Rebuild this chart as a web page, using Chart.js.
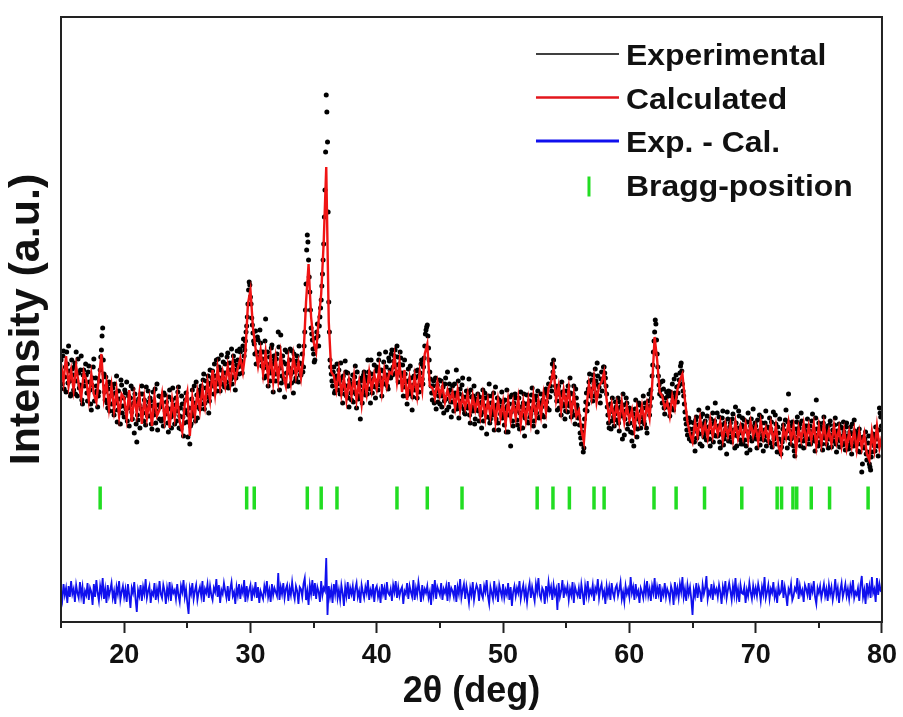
<!DOCTYPE html>
<html>
<head>
<meta charset="utf-8">
<title>XRD Rietveld refinement</title>
<script src="https://cdn.jsdelivr.net/npm/chart.js@4.4.1/dist/chart.umd.min.js"></script>
<style>
  html, body { margin: 0; padding: 0; background: #fff; }
  #wrap { width: 903px; height: 717px; position: relative; }
</style>
</head>
<body>
<div id="wrap"><canvas id="xrd"></canvas></div>
<script>
// 2θ sampling: experimental every 0.05° (two interleaved rows), difference every 0.1°, calculated every 0.2°
const twoThetaStart = 15;
const expStep = 0.1;
const calStep = 0.2;

// Experimental intensity (a.u.) at 15.0, 15.1 ... one row per degree
const expIntensity = [
  262, 238, 271, 245, 230, 258, 276, 241, 228, 253, // 15
  232, 259, 270, 226, 249, 237, 266, 218, 252, 241, // 16
  247, 221, 256, 232, 212, 244, 263, 229, 236, 215, // 17
  230, 252, 272, 294, 248, 222, 236, 214, 240, 226, // 18
  218, 234, 207, 229, 246, 212, 223, 198, 237, 216, // 19
  205, 229, 240, 214, 196, 224, 210, 233, 189, 220, // 20
  180, 202, 217, 228, 236, 209, 222, 197, 214, 231, // 21
  206, 221, 193, 230, 212, 199, 238, 217, 203, 225, // 22
  219, 196, 227, 208, 214, 190, 232, 205, 222, 210, // 23
  198, 224, 211, 235, 206, 193, 218, 186, 212, 229, // 24
  200, 207, 178, 198, 232, 210, 219, 240, 204, 226, // 25
  213, 236, 224, 248, 219, 241, 230, 209, 252, 237, // 26
  251, 228, 246, 262, 238, 255, 231, 267, 244, 249, // 27
  258, 240, 269, 236, 252, 273, 245, 261, 232, 257, // 28
  262, 248, 270, 257, 276, 266, 281, 296, 318, 340, // 29
  325, 304, 289, 278, 291, 270, 282, 262, 279, 256, // 30
  270, 244, 303, 258, 236, 265, 249, 277, 230, 262, // 31
  241, 268, 290, 232, 287, 246, 260, 225, 258, 270, // 32
  236, 262, 248, 271, 229, 257, 244, 266, 240, 259, // 33
  247, 268, 255, 290, 338, 387, 362, 330, 294, 282, // 34
  268, 262, 284, 298, 276, 305, 322, 348, 378, 432, // 35
  527, 480, 320, 262, 248, 236, 255, 231, 246, 238, // 36
  252, 228, 244, 219, 237, 261, 226, 249, 215, 238, // 37
  222, 247, 230, 256, 214, 239, 226, 203, 244, 231, // 38
  250, 227, 241, 262, 233, 219, 248, 236, 257, 224, // 39
  255, 232, 268, 244, 226, 251, 238, 270, 247, 233, // 40
  261, 244, 272, 255, 266, 249, 276, 240, 258, 264, // 41
  249, 226, 262, 240, 218, 253, 231, 244, 212, 237, // 42
  232, 251, 224, 246, 237, 258, 243, 255, 276, 292, // 43
  297, 274, 250, 236, 222, 241, 228, 213, 237, 226, // 44
  218, 241, 226, 209, 238, 223, 250, 215, 232, 205, // 45
  236, 211, 229, 252, 217, 204, 233, 221, 244, 213, // 46
  208, 231, 214, 243, 199, 225, 211, 236, 203, 219, // 47
  228, 201, 219, 194, 232, 210, 224, 188, 215, 238, // 48
  203, 226, 211, 192, 235, 217, 199, 222, 208, 230, // 49
  220, 197, 213, 232, 190, 218, 176, 227, 196, 214, // 50
  224, 202, 216, 193, 230, 207, 219, 186, 212, 227, // 51
  199, 221, 208, 234, 196, 215, 226, 190, 218, 205, // 52
  228, 207, 221, 196, 233, 214, 238, 225, 244, 258, // 53
  262, 245, 228, 212, 236, 221, 207, 230, 216, 203, // 54
  231, 210, 226, 244, 205, 219, 236, 198, 224, 213, // 55
  206, 189, 178, 196, 174, 212, 229, 218, 240, 226, // 56
  242, 221, 238, 253, 229, 246, 235, 219, 250, 240, // 57
  255, 244, 228, 207, 194, 218, 201, 212, 196, 220, // 58
  202, 224, 191, 215, 206, 228, 187, 211, 219, 198, // 59
  214, 190, 181, 208, 196, 222, 185, 203, 217, 194, // 60
  205, 226, 198, 214, 189, 221, 207, 232, 246, 270, // 61
  290, 298, 268, 246, 228, 240, 219, 233, 208, 224, // 62
  215, 231, 206, 226, 238, 212, 229, 247, 220, 236, // 63
  249, 259, 238, 226, 210, 198, 187, 204, 193, 181, // 64
  184, 199, 171, 205, 190, 212, 178, 196, 208, 185, // 65
  201, 182, 214, 190, 176, 198, 209, 187, 219, 195, // 66
  186, 205, 174, 197, 211, 183, 192, 168, 203, 190, // 67
  199, 180, 208, 187, 215, 176, 194, 206, 182, 197, // 68
  178, 202, 191, 169, 209, 185, 196, 181, 213, 188, // 69
  196, 174, 188, 207, 183, 199, 171, 192, 211, 186, // 70
  181, 204, 193, 175, 210, 186, 198, 170, 189, 203, // 71
  168, 180, 197, 188, 212, 174, 228, 191, 183, 200, // 72
  176, 166, 193, 205, 182, 198, 209, 187, 174, 196, // 73
  190, 203, 178, 196, 185, 208, 192, 171, 222, 187, // 74
  199, 180, 193, 172, 205, 188, 178, 196, 183, 201, // 75
  175, 192, 186, 204, 170, 189, 198, 181, 194, 177, // 76
  190, 172, 199, 183, 177, 195, 168, 188, 202, 180, // 77
  187, 171, 193, 178, 150, 185, 174, 190, 162, 179, // 78
  158, 152, 170, 188, 176, 195, 183, 166, 214, 205, // 79
  181                                               // 80
];

// Experimental intensity at the in-between angles 15.05, 15.15 ... 79.95
const expIntensityHalf = [
  244, 266, 233, 255, 270, 239, 251, 226, 262, 247, // 15
  255, 228, 241, 263, 234, 252, 222, 247, 236, 258, // 16
  229, 250, 240, 218, 237, 255, 221, 244, 231, 226, // 17
  241, 265, 286, 262, 230, 245, 219, 233, 211, 238, // 18
  227, 211, 238, 219, 200, 231, 215, 242, 209, 224, // 19
  232, 213, 201, 226, 217, 236, 203, 219, 228, 198, // 20
  207, 223, 194, 213, 228, 201, 216, 235, 206, 220, // 21
  224, 198, 216, 207, 233, 211, 192, 226, 215, 201, // 22
  203, 229, 211, 220, 199, 225, 213, 194, 234, 207, // 23
  217, 201, 230, 194, 214, 226, 205, 199, 222, 209, // 24
  185, 214, 196, 223, 206, 236, 201, 227, 215, 232, // 25
  229, 218, 242, 213, 234, 225, 246, 221, 239, 244, // 26
  236, 258, 240, 231, 263, 244, 252, 238, 260, 235, // 27
  249, 265, 234, 259, 243, 238, 266, 252, 244, 271, // 28
  255, 273, 261, 249, 283, 272, 290, 305, 332, 337, // 29
  318, 297, 281, 268, 258, 285, 265, 292, 270, 263, // 30
  254, 281, 246, 270, 252, 241, 274, 258, 266, 248, // 31
  263, 248, 275, 254, 239, 266, 243, 272, 249, 236, // 32
  254, 273, 239, 250, 268, 241, 261, 252, 276, 247, // 33
  258, 250, 276, 312, 372, 380, 345, 312, 288, 273, // 34
  260, 275, 290, 286, 296, 314, 336, 362, 405, 470, // 35
  510, 410, 290, 255, 241, 250, 229, 243, 258, 232, // 36
  241, 259, 233, 246, 228, 250, 236, 224, 242, 229, // 37
  237, 220, 245, 228, 250, 223, 236, 241, 219, 247, // 38
  234, 245, 228, 250, 241, 262, 229, 243, 235, 251, // 39
  241, 262, 237, 252, 239, 260, 244, 255, 236, 264, // 40
  252, 268, 247, 261, 272, 257, 265, 250, 270, 246, // 41
  257, 235, 248, 226, 241, 228, 256, 236, 225, 246, // 42
  244, 236, 252, 230, 249, 262, 238, 264, 288, 295, // 43
  286, 262, 243, 229, 236, 219, 244, 231, 220, 242, // 44
  230, 215, 235, 221, 244, 212, 229, 238, 220, 226, // 45
  220, 238, 226, 213, 241, 228, 216, 237, 225, 209, // 46
  225, 216, 229, 207, 232, 215, 226, 198, 223, 212, // 47
  211, 225, 207, 220, 201, 229, 216, 205, 226, 199, // 48
  219, 207, 229, 214, 203, 224, 192, 215, 220, 204, // 49
  208, 222, 190, 216, 207, 225, 210, 201, 219, 228, // 50
  211, 197, 224, 209, 215, 194, 228, 204, 218, 200, // 51
  214, 205, 227, 212, 201, 222, 209, 231, 204, 219, // 52
  215, 222, 205, 229, 220, 226, 212, 236, 231, 250, // 53
  255, 236, 221, 233, 214, 227, 240, 218, 225, 211, // 54
  219, 236, 216, 229, 211, 228, 207, 233, 217, 204, // 55
  197, 184, 190, 170, 203, 220, 211, 233, 248, 229, // 56
  233, 247, 226, 241, 259, 237, 226, 243, 231, 255, // 57
  249, 236, 215, 199, 210, 193, 224, 205, 208, 215, // 58
  213, 199, 220, 208, 183, 217, 203, 224, 193, 209, // 59
  199, 212, 189, 176, 213, 204, 193, 219, 200, 211, // 60
  214, 201, 219, 194, 212, 228, 216, 224, 257, 281, // 61
  302, 282, 255, 237, 232, 226, 241, 214, 219, 230, // 62
  226, 217, 230, 214, 221, 243, 225, 235, 229, 242, // 63
  256, 251, 231, 218, 203, 192, 199, 183, 200, 188, // 64
  193, 180, 202, 184, 197, 188, 205, 176, 191, 199, // 65
  189, 206, 195, 183, 203, 190, 180, 201, 186, 209, // 66
  196, 180, 188, 204, 177, 199, 187, 210, 181, 195, // 67
  185, 203, 192, 174, 199, 186, 211, 189, 178, 204, // 68
  195, 182, 176, 200, 190, 172, 203, 194, 184, 199, // 69
  183, 202, 191, 177, 205, 187, 182, 199, 176, 195, // 70
  194, 179, 200, 189, 183, 207, 178, 195, 183, 174, // 71
  175, 193, 184, 202, 191, 200, 184, 178, 196, 187, // 72
  171, 184, 200, 189, 194, 176, 201, 181, 192, 183, // 73
  196, 183, 191, 178, 201, 185, 181, 204, 193, 176, // 74
  186, 195, 178, 199, 184, 193, 189, 174, 197, 187, // 75
  186, 181, 197, 178, 191, 183, 175, 195, 186, 200, // 76
  179, 195, 186, 173, 190, 181, 198, 176, 191, 184, // 77
  178, 189, 170, 184, 158, 175, 183, 168, 170, 186, // 78
  155, 165, 179, 184, 171, 188, 176, 192, 209, 196  // 79
];

// Calculated profile, every 0.2°
const calIntensity = [
  258, 240, 266, 236, 252, // 15
  232, 256, 238, 224, 250, // 16
  242, 222, 248, 228, 220, // 17
  244, 268, 224, 240, 214, // 18
  236, 212, 232, 206, 228, // 19
  224, 204, 232, 200, 226, // 20
  208, 228, 198, 224, 204, // 21
  222, 196, 226, 206, 212, // 22
  228, 202, 220, 194, 222, // 23
  204, 226, 200, 190, 218, // 24
  230, 186, 224, 206, 230, // 25
  212, 234, 216, 240, 222, // 26
  252, 228, 254, 234, 250, // 27
  236, 256, 238, 260, 242, // 28
  254, 264, 250, 270, 318, // 29
  332, 294, 274, 256, 272, // 30
  248, 270, 244, 266, 240, // 31
  264, 242, 268, 246, 236, // 32
  262, 240, 266, 246, 260, // 33
  244, 266, 320, 358, 305, // 34
  280, 270, 302, 328, 380, // 35
  455, 300, 250, 246, 232, // 36
  252, 228, 244, 222, 242, // 37
  226, 246, 222, 240, 218, // 38
  244, 228, 250, 232, 248, // 39
  234, 254, 230, 252, 236, // 40
  250, 248, 266, 240, 260, // 41
  230, 252, 222, 244, 228, // 42
  246, 226, 250, 232, 268, // 43
  278, 236, 234, 224, 240, // 44
  226, 236, 220, 232, 222, // 45
  230, 214, 232, 212, 226, // 46
  214, 228, 208, 226, 212, // 47
  224, 206, 226, 204, 222, // 48
  206, 224, 200, 222, 204, // 49
  220, 198, 222, 202, 220, // 50
  204, 224, 198, 220, 202, // 51
  222, 200, 226, 204, 222, // 52
  206, 228, 210, 234, 240, // 53
  254, 222, 236, 212, 232, // 54
  216, 234, 208, 228, 206, // 55
  212, 192, 180, 214, 238, // 56
  224, 244, 220, 236, 240, // 57
  250, 222, 204, 218, 202, // 58
  218, 200, 220, 200, 216, // 59
  202, 212, 192, 214, 200, // 60
  216, 200, 218, 204, 236, // 61
  285, 262, 230, 226, 214, // 62
  220, 206, 226, 214, 232, // 63
  242, 248, 222, 200, 188, // 64
  180, 200, 186, 204, 188, // 65
  198, 184, 202, 186, 200, // 66
  188, 200, 182, 198, 186, // 67
  198, 182, 200, 184, 196, // 68
  184, 198, 182, 200, 186, // 69
  196, 180, 200, 184, 194, // 70
  182, 198, 180, 196, 176, // 71
  168, 194, 184, 200, 182, // 72
  196, 172, 194, 182, 198, // 73
  180, 196, 182, 198, 176, // 74
  196, 178, 198, 180, 192, // 75
  178, 196, 180, 194, 176, // 76
  192, 174, 190, 176, 192, // 77
  172, 190, 174, 188, 168, // 78
  162, 190, 172, 196, 174, // 79
  186                      // 80
];

// Difference curve (Exp. - Cal.), shifted below the pattern, every 0.1°
const diffIntensity = [
  30, 22, 38, 27, 34, 19, 36, 25, 41, 28, // 15
  33, 20, 37, 29, 24, 40, 26, 35, 18, 31, // 16
  27, 39, 22, 34, 30, 17, 38, 25, 42, 29, // 17
  21, 36, 28, 44, 23, 33, 19, 37, 26, 32, // 18
  39, 24, 31, 18, 35, 28, 41, 22, 30, 36, // 19
  25, 33, 20, 38, 27, 14, 34, 29, 40, 23, // 20
  10, 32, 26, 37, 21, 35, 28, 43, 24, 31, // 21
  36, 19, 30, 27, 39, 22, 33, 25, 41, 28, // 22
  24, 37, 31, 18, 34, 26, 40, 21, 35, 29, // 23
  32, 23, 38, 27, 20, 36, 30, 42, 25, 33, // 24
  19, 8, 34, 28, 39, 23, 31, 37, 22, 30,  // 25
  35, 26, 41, 20, 33, 29, 38, 24, 36, 27, // 26
  22, 34, 30, 43, 25, 37, 19, 32, 28, 39, // 27
  31, 24, 36, 21, 33, 40, 26, 30, 18, 35, // 28
  27, 38, 23, 34, 29, 42, 20, 36, 25, 32, // 29
  37, 21, 33, 28, 40, 24, 35, 19, 31, 27, // 30
  23, 36, 29, 41, 25, 32, 20, 38, 27, 34, // 31
  30, 26, 49, 22, 35, 28, 39, 24, 33, 37, // 32
  21, 34, 27, 40, 29, 23, 36, 31, 18, 35, // 33
  33, 25, 38, 44, 22, 31, 17, 37, 28, 42, // 34
  26, 39, 23, 35, 30, 20, 41, 27, 34, 31, // 35
  64, 7, 36, 25, 33, 19, 38, 28, 42, 24,  // 36
  32, 22, 37, 29, 16, 35, 26, 40, 23, 34, // 37
  28, 36, 21, 33, 39, 25, 31, 19, 37, 30, // 38
  24, 35, 29, 42, 22, 32, 27, 38, 20, 33, // 39
  36, 25, 31, 19, 38, 28, 34, 22, 40, 29, // 40
  27, 33, 21, 37, 30, 41, 24, 35, 26, 32, // 41
  35, 18, 31, 28, 39, 23, 36, 30, 25, 42, // 42
  22, 34, 27, 40, 31, 20, 37, 26, 33, 29, // 43
  36, 24, 30, 17, 38, 28, 42, 23, 35, 31, // 44
  27, 39, 22, 33, 29, 36, 21, 40, 26, 34, // 45
  31, 25, 37, 20, 35, 28, 43, 24, 32, 38, // 46
  23, 36, 29, 19, 34, 27, 40, 22, 31, 37, // 47
  33, 21, 38, 28, 24, 36, 30, 42, 26, 18, // 48
  35, 29, 23, 41, 27, 33, 20, 37, 31, 25, // 49
  38, 24, 32, 27, 39, 22, 35, 16, 30, 36, // 50
  26, 34, 29, 41, 23, 31, 37, 25, 33, 20, // 51
  32, 39, 24, 35, 28, 21, 38, 30, 44, 27, // 52
  23, 34, 31, 18, 36, 26, 40, 29, 35, 22, // 53
  37, 28, 33, 12, 39, 25, 31, 42, 24, 34, // 54
  29, 36, 22, 33, 27, 40, 19, 35, 30, 26, // 55
  34, 23, 38, 29, 17, 36, 27, 41, 25, 32, // 56
  28, 37, 21, 34, 30, 43, 24, 33, 38, 26, // 57
  31, 18, 36, 27, 35, 22, 39, 29, 24, 34, // 58
  37, 26, 32, 40, 23, 30, 20, 36, 28, 33, // 59
  25, 45, 29, 35, 22, 38, 27, 31, 19, 34, // 60
  30, 24, 37, 28, 41, 26, 33, 21, 36, 29, // 61
  44, 23, 35, 28, 38, 20, 32, 27, 39, 25, // 62
  33, 29, 22, 36, 31, 17, 40, 27, 34, 24, // 63
  38, 30, 45, 25, 33, 21, 37, 28, 35, 23, // 64
  7, 32, 26, 39, 24, 35, 30, 20, 37, 28,  // 65
  34, 46, 23, 31, 27, 38, 22, 36, 29, 33, // 66
  25, 37, 30, 18, 35, 28, 41, 24, 32, 39, // 67
  31, 22, 36, 27, 44, 25, 33, 20, 37, 29, // 68
  28, 35, 19, 32, 26, 39, 30, 23, 36, 27, // 69
  34, 26, 38, 31, 21, 35, 28, 45, 24, 30, // 70
  37, 23, 33, 29, 40, 25, 31, 19, 36, 28, // 71
  30, 42, 24, 35, 27, 16, 33, 29, 38, 22, // 72
  26, 34, 31, 44, 23, 36, 28, 32, 20, 37, // 73
  33, 27, 39, 22, 35, 30, 41, 25, 18, 34, // 74
  29, 36, 24, 31, 38, 26, 33, 21, 37, 28, // 75
  35, 22, 30, 43, 27, 34, 19, 32, 39, 25, // 76
  31, 38, 26, 33, 23, 36, 29, 42, 24, 30, // 77
  27, 34, 21, 37, 46, 25, 32, 18, 39, 28, // 78
  36, 24, 45, 29, 33, 20, 44, 27, 38, 31, // 79
  30                                      // 80
];

// Bragg reflections (2θ) and the level they are marked at
const braggPositions = [18.1, 29.7, 30.3, 34.5, 35.6, 36.85, 41.6, 44.0, 46.75,
  52.7, 53.95, 55.25, 57.2, 58.0, 61.95, 63.7, 65.95, 68.9, 71.7, 72.05,
  72.95, 73.25, 74.4, 75.85, 78.9];
const braggLevel = 124;

const xTickValues = [20, 30, 40, 50, 60, 70, 80];
const xMinorTicks = [15, 25, 35, 45, 55, 65, 75];
const seriesLabels = ['Experimental', 'Calculated', 'Exp. - Cal.', 'Bragg-position'];

const fontFamily = '"Liberation Sans", Arial, Helvetica, sans-serif';

const toPoints = (values, start, step) =>
  values.map((v, i) => ({ x: +(start + i * step).toFixed(2), y: v }));

// both experimental rows merged and sorted by angle
const expPoints = toPoints(expIntensity, twoThetaStart, expStep)
  .concat(toPoints(expIntensityHalf, twoThetaStart + expStep / 2, expStep))
  .sort((a, b) => a.x - b.x);

// frame round the plot + minor ticks under the x axis
const framePlugin = {
  id: 'framePlugin',
  afterDraw(chart) {
    const { ctx, chartArea: a, scales } = chart;
    ctx.save();
    ctx.strokeStyle = '#222';
    ctx.lineWidth = 2;
    ctx.strokeRect(a.left, a.top, a.right - a.left, a.bottom - a.top);
    for (const v of xMinorTicks) {
      const px = Math.round(scales.x.getPixelForValue(v));
      ctx.beginPath();
      ctx.moveTo(px, a.bottom);
      ctx.lineTo(px, a.bottom + 6);
      ctx.stroke();
    }
    ctx.restore();
  }
};

// legend drawn inside the top right of the plot
const insideLegend = {
  id: 'insideLegend',
  afterDraw(chart) {
    const { ctx, chartArea: a } = chart;
    const sets = chart.data.datasets;
    const lineStart = a.right - 346, lineEnd = a.right - 263, textX = a.right - 256;
    ctx.save();
    sets.forEach((ds, i) => {
      const y = a.top + 40 + i * 43.5;
      if (ds.legendKind === 'tick') {
        ctx.strokeStyle = ds.pointBorderColor;
        ctx.lineWidth = 3;
        ctx.beginPath();
        ctx.moveTo(a.right - 293, y - 11);
        ctx.lineTo(a.right - 293, y + 9);
        ctx.stroke();
      } else {
        ctx.strokeStyle = ds.legendColor;
        ctx.lineWidth = ds.legendWidth;
        ctx.beginPath();
        ctx.moveTo(lineStart, y - 3);
        ctx.lineTo(lineEnd, y - 3);
        ctx.stroke();
      }
      ctx.save();
      ctx.translate(textX, y);
      ctx.scale(1.1, 1);
      ctx.fillStyle = '#111';
      ctx.font = 'bold 29px ' + fontFamily;
      ctx.textBaseline = 'middle';
      ctx.textAlign = 'left';
      ctx.fillText(ds.label, 0, 0);
      ctx.restore();
    });
    ctx.restore();
  }
};

new Chart(document.getElementById('xrd'), {
  type: 'scatter',
  data: {
    datasets: [
      {
        label: seriesLabels[0],
        data: expPoints,
        showLine: false,
        pointRadius: 2.5,
        pointHoverRadius: 2.5,
        pointBorderWidth: 0,
        pointBackgroundColor: '#000',
        legendColor: '#000',
        legendWidth: 1.6,
        order: 4
      },
      {
        label: seriesLabels[1],
        data: toPoints(calIntensity, twoThetaStart, calStep),
        showLine: true,
        borderColor: '#f01414',
        borderWidth: 2.4,
        pointRadius: 0,
        legendColor: '#e3161c',
        legendWidth: 2.6,
        order: 3
      },
      {
        label: seriesLabels[2],
        data: toPoints(diffIntensity, twoThetaStart, expStep),
        showLine: true,
        borderColor: '#1010ee',
        borderWidth: 1.8,
        pointRadius: 0,
        legendColor: '#1010ee',
        legendWidth: 3,
        order: 2
      },
      {
        label: seriesLabels[3],
        data: braggPositions.map(x => ({ x: x, y: braggLevel })),
        showLine: false,
        pointStyle: 'line',
        rotation: 90,
        pointRadius: 11.5,
        pointHoverRadius: 11.5,
        pointBorderWidth: 3.5,
        pointBorderColor: '#22dd22',
        legendKind: 'tick',
        order: 1
      }
    ]
  },
  options: {
    responsive: true,
    maintainAspectRatio: false,
    animation: false,
    events: [],
    layout: { padding: { top: 17, right: 20, left: 0, bottom: 0 } },
    plugins: {
      legend: { display: false },
      tooltip: { enabled: false }
    },
    scales: {
      x: {
        type: 'linear',
        min: 15,
        max: 80,
        afterBuildTicks: s => { s.ticks = xTickValues.map(v => ({ value: v })); },
        afterFit: s => { s.height = 95; },
        ticks: {
          color: '#111',
          padding: 6,
          maxRotation: 0,
          autoSkip: false,
          font: { family: fontFamily, size: 27, weight: 'bold' }
        },
        grid: { drawOnChartArea: false, drawTicks: true, tickLength: 11, tickWidth: 2, tickColor: '#222' },
        border: { display: false },
        title: {
          display: true,
          text: '2θ (deg)',
          color: '#111',
          padding: { top: 0, bottom: 3 },
          font: { family: fontFamily, size: 36, weight: 'bold' }
        }
      },
      y: {
        type: 'linear',
        min: 0,
        max: 605,
        afterFit: s => { s.width = 61; },
        ticks: { display: false },
        grid: { display: false },
        border: { display: false },
        title: {
          display: true,
          text: 'Intensity (a.u.)',
          color: '#111',
          padding: { top: 1, bottom: 1 },
          font: { family: fontFamily, size: 43, weight: 'bold' }
        }
      }
    }
  },
  plugins: [framePlugin, insideLegend]
});
</script>
</body>
</html>
